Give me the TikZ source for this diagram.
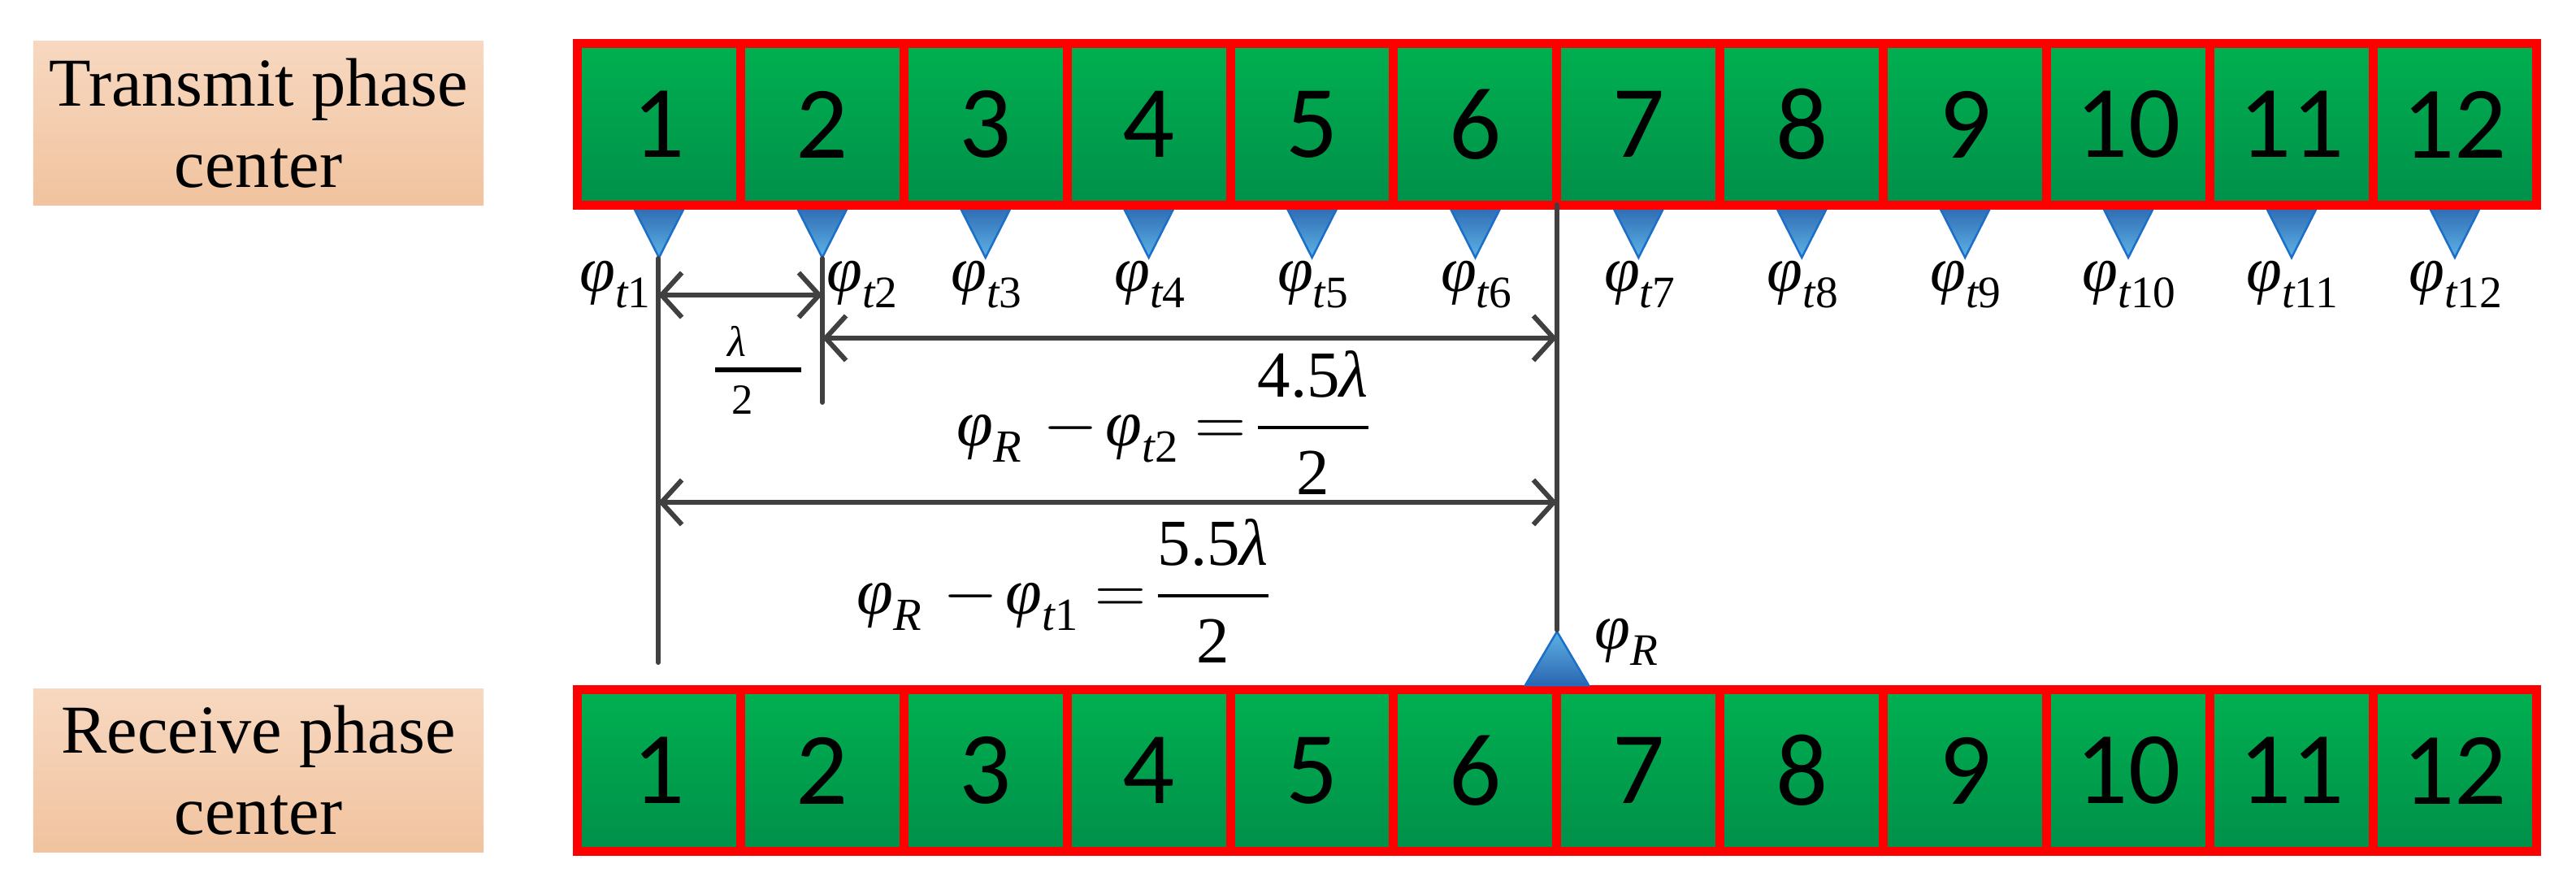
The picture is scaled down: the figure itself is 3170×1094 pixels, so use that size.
\documentclass[tikz,border=0pt]{standalone}
\usepackage{amsmath}
\usepackage{fontspec}
\setmainfont{Liberation Serif}
\newfontfamily\numfont{Carlito}
\usetikzlibrary{arrows.meta,shadings}
\definecolor{gtop}{HTML}{00B050}
\definecolor{gbot}{HTML}{00904A}
\definecolor{ptop}{HTML}{F7D8C0}
\definecolor{pbot}{HTML}{F1C39F}
\definecolor{btop}{HTML}{2B66B0}
\definecolor{bbot}{HTML}{5DB2E5}
\definecolor{bline}{HTML}{1C6FC8}
\definecolor{dimc}{HTML}{404040}
\newcommand{\vph}{\textit{φ}}
\newcommand{\lam}{\textit{λ}}
\newcommand{\eqdiff}[2]{\vph_{\textit{R}}\mskip5mu{-}\mskip2mu\vph_{\textit{t}\text{#1}}\mskip4mu{=}\mskip2mu\dfrac{\text{#2}\lam}{\text{2}}}
\begin{document}
\begin{tikzpicture}[x=0.01cm,y=-0.01cm,
  labelbox/.style={rectangle, minimum width=5.54cm, minimum height=2.01cm, top color=ptop, bottom color=pbot, align=center, inner sep=0, font=\fontsize{24}{28.5}\selectfont},
  cell/.style={rectangle, draw=red, line width=0.11cm, minimum width=2.009cm, minimum height=1.99cm, top color=gtop, bottom color=gbot, inner sep=0, font=\numfont\fontsize{36}{36}\selectfont},
  tridown/.style={draw=bline, line width=0.025cm, top color=btop, bottom color=bbot},
  triup/.style={draw=bline, line width=0.025cm, top color=bbot, bottom color=btop},
  lab/.style={inner sep=0, font=\fontsize{22.5}{22.5}\selectfont},
  eqn/.style={inner sep=0, font=\fontsize{23}{23}\selectfont},
  small/.style={inner sep=0, font=\fontsize{15}{15}\selectfont},
  dimline/.style={draw=dimc, line width=0.06cm, line cap=round},
  dimarrow/.style={dimline, {Straight Barb[length=0.25cm,width=0.55cm]}-{Straight Barb[length=0.25cm,width=0.55cm]}}
]
\useasboundingbox (0,0) rectangle (3170,1094);

% phase-center labels
\node[labelbox] (tx) at (318,151.5) {Transmit phase\\center};
\node[labelbox] (rx) at (318,948) {Receive phase\\center};

% transmit triangles
\foreach \k in {1,...,12} {
  \pgfmathsetmacro\cx{610.05+200.9*\k}
  \shadedraw[tridown] (\cx-34,250) -- (\cx+34,250) -- (\cx,317) -- cycle;
}

% arrays
\foreach \k in {1,...,12} {
  \node[cell] (t\k) at (610.05+200.9*\k,153) {\k};
  \node[cell] (r\k) at (610.05+200.9*\k,948) {\k};
}

% receive triangle
\shadedraw[triup] (1877,843) -- (1955,843) -- (1916,777) -- cycle;
\node[lab] (pR) at (2002,790) {$\vph_{\textit{R}}$};

% transmit labels
\node[lab] (p1) at (758,350) {$\vph_{\textit{t}\text{1}}$};
\node[lab] (p2) at (1062,350) {$\vph_{\textit{t}\text{2}}$};
\foreach \k in {3,...,12} {
  \node[lab] (p\k) at (612+200.9*\k,350) {$\vph_{\textit{t}\text{\k}}$};
}

% extension lines
\coordinate (v1t) at (810,318); \coordinate (v1b) at (810,815);
\coordinate (v2t) at (1012,318); \coordinate (v2b) at (1012,495);
\coordinate (v3t) at (1916,252); \coordinate (v3b) at (1916,775);
\draw[dimline] (v1t) -- (v1b);
\draw[dimline] (v2t) -- (v2b);
\draw[dimline] (v3t) -- (v3b);

% dimension arrows
\coordinate (a1l) at (810,363); \coordinate (a1r) at (1012,363);
\coordinate (a2l) at (1012,416); \coordinate (a2r) at (1916,416);
\coordinate (a3l) at (810,618); \coordinate (a3r) at (1916,618);
\draw[dimarrow] (a1l) -- (a1r);
\draw[dimarrow] (a2l) -- (a2r);
\draw[dimarrow] (a3l) -- (a3r);

% lambda/2
\node[small] (lm) at (907,420) {\lam};
\node[small] (two) at (914,492) {2};
\coordinate (fb1) at (880,455); \coordinate (fb2) at (986,455);
\draw[line width=0.06cm] (fb1) -- (fb2);

% equations
\node[eqn] (e1) at (1433,520) {$\eqdiff{2}{4.5}$};
\node[eqn] (e2) at (1310,727) {$\eqdiff{1}{5.5}$};
\end{tikzpicture}
\end{document}
